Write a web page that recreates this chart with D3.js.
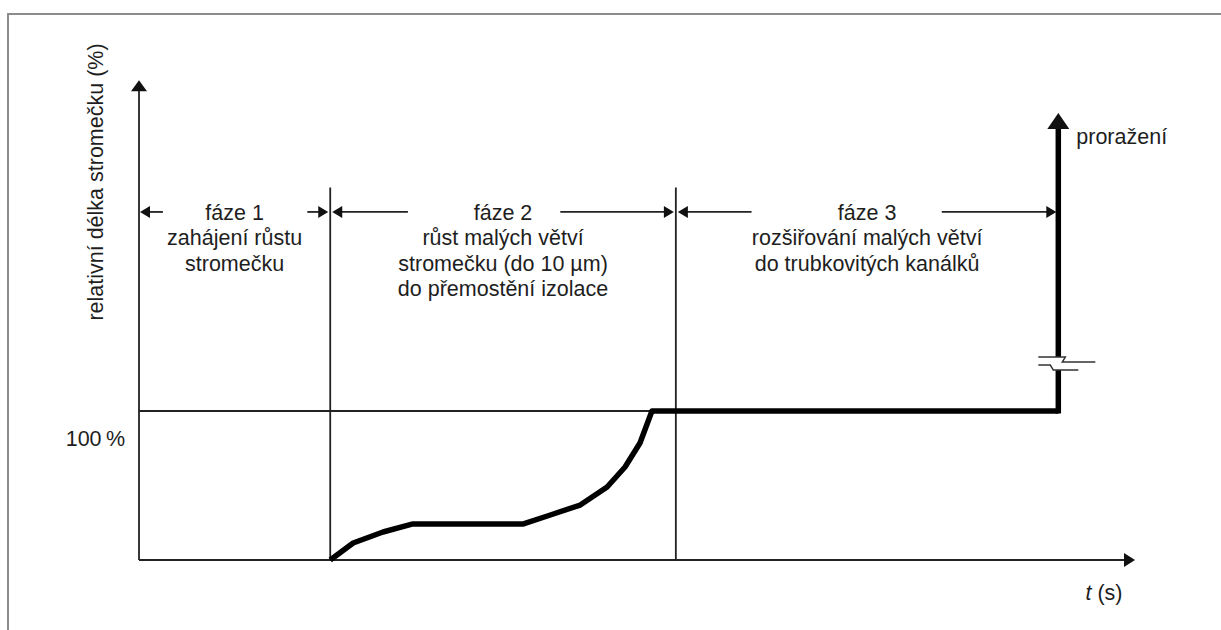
<!DOCTYPE html>
<html>
<head>
<meta charset="utf-8">
<script src="https://cdn.jsdelivr.net/npm/d3@7"></script>
<style>
  body { margin: 0; background: #fff; }
  text { font-family: "Liberation Sans", Arial, sans-serif; fill: #1e1e1e; }
</style>
</head>
<body>
<svg id="chart" width="1221" height="630"></svg>
<script>
// phase boundaries on the time axis (arbitrary units 0..100)
const phaseBounds = [0, 19.2, 53.9, 92.3];
const phaseNames = ["fáze 1", "fáze 2", "fáze 3"];
const phaseText = [
  ["zahájení růstu", "stromečku"],
  ["růst malých větví", "stromečku (do 10 µm)", "do přemostění izolace"],
  ["rozšiřování malých větví", "do trubkovitých kanálků"]
];
// where the dimension line is interrupted by the label
const phaseGap = [[2.4, 16.9], [27.0, 42.3], [61.5, 80.6]];

// tree length curve
const treeT = [19.2, 21.5, 24.5, 27.5, 38.6, 41.3, 44.3, 47.0, 48.8, 50.3, 51.5, 92.3];
const treeLen = [0, 11.4, 18.8, 24.2, 24.2, 30.2, 36.9, 49, 62.4, 78.5, 100, 100];

// breakdown jump
const breakT = 92.3;
const breakLen = [100, 127.5, 136.2, 298];

const yMax = 322, xMax = 100;
const refLevel = 100;
const phaseRow = 233.6;

const svg = d3.select("#chart");
const x = d3.scaleLinear().domain([0, xMax]).range([139, 1135]);
const y = d3.scaleLinear().domain([0, 100]).range([560, 411]);

// outer frame
svg.append("path")
  .attr("d", "M8,640 V14 H1230")
  .attr("fill", "none").attr("stroke", "#8c8c8c").attr("stroke-width", 2);

function arrowHead(px, py, dir, len, half) {
  // dir: "up", "left", "right"
  let p;
  if (dir === "up") p = [[px, py], [px - half, py + len], [px + half, py + len]];
  else if (dir === "right") p = [[px, py], [px - len, py - half], [px - len, py + half]];
  else p = [[px, py], [px + len, py - half], [px + len, py + half]];
  svg.append("path").attr("d", "M" + p.join("L") + "Z").attr("fill", "#111");
}

const thin = { stroke: "#222", w: 1.8 };

// axes
svg.append("line").attr("x1", x(0)).attr("x2", x(0)).attr("y1", y(0)).attr("y2", y(yMax) + 8)
  .attr("stroke", thin.stroke).attr("stroke-width", thin.w);
arrowHead(x(0), y(yMax), "up", 11, 8);
svg.append("line").attr("x1", x(0)).attr("x2", x(xMax) - 8).attr("y1", y(0)).attr("y2", y(0))
  .attr("stroke", thin.stroke).attr("stroke-width", thin.w);
arrowHead(x(xMax), y(0), "right", 11, 7);

// 100 % reference line
svg.append("line").attr("x1", x(0)).attr("x2", x(breakT)).attr("y1", y(refLevel)).attr("y2", y(refLevel))
  .attr("stroke", thin.stroke).attr("stroke-width", thin.w);

// phase separators
svg.selectAll("line.sep").data(phaseBounds.slice(1, 3)).enter().append("line")
  .attr("class", "sep")
  .attr("x1", d => x(d)).attr("x2", d => x(d))
  .attr("y1", y(0)).attr("y2", y(250))
  .attr("stroke", thin.stroke).attr("stroke-width", thin.w);

// dimension lines of phases
const rowY = y(phaseRow);
phaseNames.forEach((name, i) => {
  const a = phaseBounds[i], b = phaseBounds[i + 1];
  const ax = x(a) + (i === 0 ? 1 : 2), bx = x(b) - 2;
  svg.append("line").attr("x1", ax + 6).attr("x2", x(phaseGap[i][0])).attr("y1", rowY).attr("y2", rowY)
    .attr("stroke", thin.stroke).attr("stroke-width", thin.w);
  svg.append("line").attr("x1", x(phaseGap[i][1])).attr("x2", bx - 6).attr("y1", rowY).attr("y2", rowY)
    .attr("stroke", thin.stroke).attr("stroke-width", thin.w);
  arrowHead(ax, rowY, "left", 10, 6);
  arrowHead(bx, rowY, "right", 10, 6);

  const cx = x((a + b) / 2);
  const lines = [name].concat(phaseText[i]);
  svg.append("g").selectAll("text").data(lines).enter().append("text")
    .attr("x", cx).attr("y", (d, j) => rowY + 8 + j * 25.3)
    .attr("text-anchor", "middle").attr("font-size", 21.5)
    .text(d => d);
});

// tree growth curve
const pts = treeT.map((t, i) => [t, treeLen[i]]);
svg.append("path")
  .datum(pts)
  .attr("d", d3.line().x(d => x(d[0])).y(d => y(d[1])))
  .attr("fill", "none").attr("stroke", "#000").attr("stroke-width", 5.5)
  .attr("stroke-linejoin", "round");

// breakdown vertical with break
const bx = x(breakT);
svg.append("line").attr("x1", bx).attr("x2", bx).attr("y1", y(breakLen[0]) + 2.5).attr("y2", y(breakLen[1]))
  .attr("stroke", "#000").attr("stroke-width", 5.5);
svg.append("line").attr("x1", bx).attr("x2", bx).attr("y1", y(breakLen[2])).attr("y2", y(breakLen[3]) + 10)
  .attr("stroke", "#000").attr("stroke-width", 5.5);
arrowHead(bx, y(breakLen[3]) - 3, "up", 16, 11);

// break symbol
const yb1 = y(breakLen[2]), yb2 = y(breakLen[1]);
svg.append("path")
  .attr("d", `M${bx - 20},${yb1} H${bx + 7} L${bx + 4},${yb1 + 5} H${bx + 37}`)
  .attr("fill", "none").attr("stroke", "#333").attr("stroke-width", 1.5);
svg.append("path")
  .attr("d", `M${bx - 20},${yb2 - 5} H${bx - 8} L${bx - 5},${yb2} H${bx + 20}`)
  .attr("fill", "none").attr("stroke", "#333").attr("stroke-width", 1.5);

// labels
svg.append("text")
  .attr("transform", `translate(103,${182}) rotate(-90)`)
  .attr("text-anchor", "middle").attr("font-size", 21.5)
  .text("relativní délka stromečku (%)");

svg.append("text")
  .attr("x", 125).attr("y", y(refLevel) + 35)
  .attr("text-anchor", "end").attr("font-size", 21.5)
  .text("100\u2009%");

svg.append("text")
  .attr("x", bx + 18).attr("y", y(breakLen[3]) + 28)
  .attr("font-size", 21.5)
  .text("proražení");

const tl = svg.append("text")
  .attr("x", 1104).attr("y", 600)
  .attr("text-anchor", "middle").attr("font-size", 21.5);
tl.append("tspan").attr("font-style", "italic").text("t");
tl.append("tspan").text(" (s)");
</script>
</body>
</html>
